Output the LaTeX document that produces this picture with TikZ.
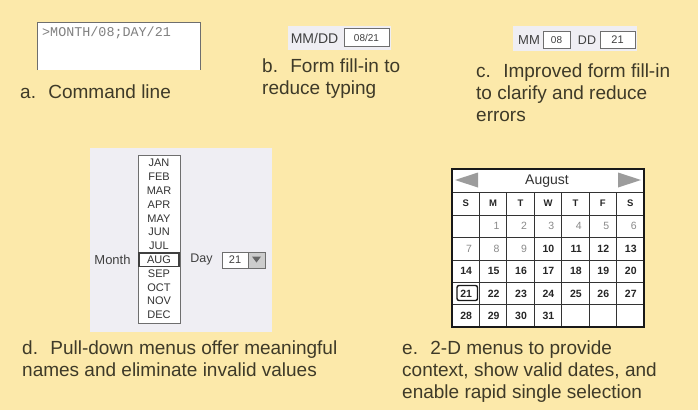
\documentclass[tikz,border=0pt]{standalone}
\usepackage{fontspec}
\setmainfont{Liberation Sans}
\newfontfamily\monof{Liberation Mono}
\definecolor{bgyel}{HTML}{FCE9AA}
\definecolor{captxt}{HTML}{3E3A28}
\definecolor{panelbg}{HTML}{EFEEF3}
\definecolor{widgetline}{HTML}{6E6E6E}
\definecolor{gridline}{HTML}{333333}
\definecolor{lightnum}{HTML}{8A8A8A}
\definecolor{arrowgray}{HTML}{9C9C9C}
\tikzset{
 caption/.style={anchor=base west, inner sep=0pt, align=left, text=captxt, font=\fontsize{19}{22}\selectfont},
 fieldbox/.style={draw=widgetline, fill=white, line width=0.8pt},
 wlabel/.style={inner sep=0pt, text=black!75},
 monthitem/.style={inner sep=0pt, font=\fontsize{11}{11}\selectfont, text=black!80},
 dayname/.style={inner sep=0pt, font=\bfseries\fontsize{9.5}{9.5}\selectfont, text=black!85},
 daynum/.style={anchor=east, inner sep=0pt, font=\bfseries\fontsize{10.5}{10.5}\selectfont, text=black!85},
 daynumlight/.style={anchor=east, inner sep=0pt, font=\fontsize{10.5}{10.5}\selectfont, text=lightnum},
 gridln/.style={draw=gridline, line width=1pt},
}
\begin{document}
\begin{tikzpicture}[x=1pt,y=-1pt]
\useasboundingbox (0,0) rectangle (698,410);
\fill[bgyel] (0,0) rectangle (698,410);

% a. command line
\fill[white] (37,22) rectangle (200,70);
\draw[widgetline, line width=0.8pt] (37,70) -- (37,22) -- (200,22) -- (200,70);
\node[anchor=west, inner sep=0pt, font=\monof\fontsize{13.4}{13.4}\selectfont, text=black!50] (cmd) at (42,33) {>MONTH/08;DAY/21};
\node[caption] (capa) at (20,98) {a.~ Command line};

% b. form fill-in
\fill[panelbg] (288,26) rectangle (391,50);
\node[wlabel, font=\fontsize{14}{14}\selectfont] (bmmdd) at (314.5,38) {MM/DD};
\draw[fieldbox] (344,28.5) rectangle (389,46);
\node[wlabel, font=\fontsize{10}{10}\selectfont] (bval) at (366.5,38) {08/21};
\node[caption] (capb) at (262,94) {b.~ Form fill-in to\\reduce typing};

% c. improved form fill-in
\fill[panelbg] (513,26) rectangle (637,51);
\node[wlabel, font=\fontsize{13}{13}\selectfont] (cmm) at (529,40) {MM};
\draw[fieldbox] (543,31) rectangle (570,48);
\node[wlabel, font=\fontsize{10}{10}\selectfont] (cmmv) at (556.5,40) {08};
\node[wlabel, font=\fontsize{12.5}{12.5}\selectfont] (cdd) at (587,40) {DD};
\draw[fieldbox] (600,31) rectangle (635,48);
\node[wlabel, font=\fontsize{11}{11}\selectfont] (cddv) at (617.5,40) {21};
\node[caption] (capc) at (476,121) {c.~ Improved form fill-in\\to clarify and reduce\\errors};

% d. pull-down menus
\fill[panelbg] (90,148) rectangle (272,332);
\draw[widgetline, fill=white, line width=0.8pt] (138,155) rectangle (180,323);
\foreach \m [count=\i from 0] in {JAN,FEB,MAR,APR,MAY,JUN,JUL,AUG,SEP,OCT,NOV,DEC}
  \node[monthitem] (mon\i) at (159,{163+\i*13.82}) {\m};
\draw[black!75, line width=1.2pt] (139,253) rectangle (179,266.5);
\node[wlabel, font=\fontsize{13}{13}\selectfont] (monthlbl) at (112.5,259.5) {Month};
\node[wlabel, font=\fontsize{12.5}{12.5}\selectfont] (daylbl) at (201.5,259.5) {Day};
\draw[fieldbox] (222,252) rectangle (265,268);
\fill[black!20] (248,252.5) rectangle (264.6,267.6);
\draw[widgetline, line width=0.8pt] (248,252) -- (248,268);
\fill[black!60] (252,256.5) -- (261,256.5) -- (256.5,262.5) -- cycle;
\node[wlabel, font=\fontsize{11}{11}\selectfont] (dayval) at (235,260) {21};
\node[caption] (capd) at (22,376) {d.~ Pull-down menus offer meaningful\\names and eliminate invalid values};

% e. calendar
\fill[white] (452,169) rectangle (644,327);
\fill[arrowgray] (455,180) -- (478,172.5) -- (478,187.5) -- cycle;
\fill[arrowgray] (641,180) -- (618,172.5) -- (618,187.5) -- cycle;
\node[inner sep=0pt, font=\fontsize{14}{14}\selectfont, text=black!80] (calmonth) at (547,181) {August};
\foreach \k in {1,...,6}
  \draw[gridln] ({452+\k*27.43},192) -- ({452+\k*27.43},327);
\foreach \yy in {192,215,237.5,260,282,304.5}
  \draw[gridln] (452,\yy) -- (644,\yy);
\draw[draw=black!90, line width=1.6pt] (452,169) rectangle (644,327);
\foreach \d [count=\i from 0] in {S,M,T,W,T,F,S}
  \node[dayname] (dn\i) at ({452+(\i+0.5)*27.43},203.5) {\d};
\foreach \n in {1,...,31}{
  \pgfmathtruncatemacro\rr{\n/7}
  \pgfmathtruncatemacro\cc{mod(\n,7)}
  \ifnum\n<10
    \node[daynumlight] (day\n) at ({452+(\cc+0.5)*27.43+6.5},{215+(\rr+0.5)*22.4}) {\n};
  \else
    \node[daynum] (day\n) at ({452+(\cc+0.5)*27.43+6.5},{215+(\rr+0.5)*22.4}) {\n};
  \fi
}
\draw[black!90, line width=1.4pt, rounded corners=2pt] (457,285.5) rectangle (477.5,300.5);
\node[caption] (cape) at (402,398) {e.~ 2-D menus to provide\\context, show valid dates, and\\enable rapid single selection};
\end{tikzpicture}
\end{document}
